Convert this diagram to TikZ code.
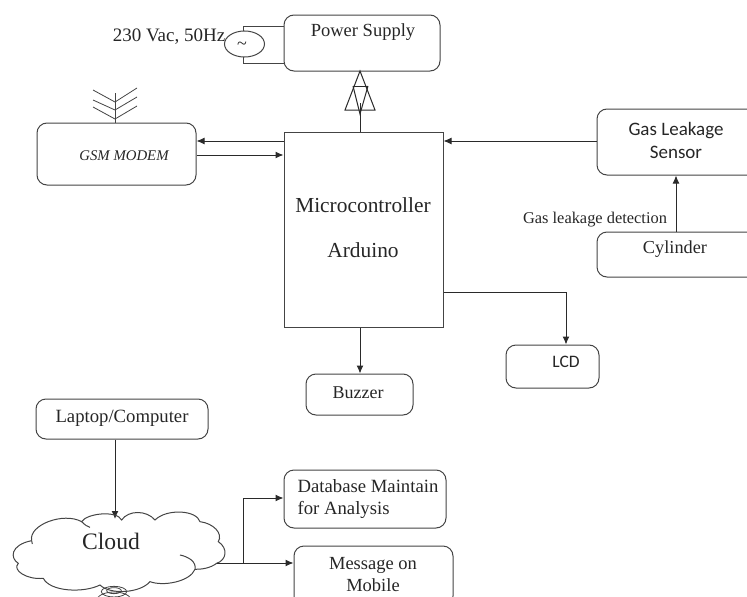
\documentclass[tikz,border=0pt]{standalone}
\usepackage{fontspec}
\setmainfont{Liberation Serif}
\newfontfamily\sensorfont{Carlito}
\usetikzlibrary{arrows.meta,shapes.geometric}
\definecolor{ink}{HTML}{2A2A2A}
\definecolor{edge}{HTML}{444444}
\tikzset{
  box/.style={draw=edge,line width=1pt,rounded corners=10pt,inner sep=0pt},
  plainbox/.style={draw=edge,line width=1pt,inner sep=0pt},
  txt/.style={text=black!85,inner sep=0pt,align=center,font=\fontsize{18.5}{24}\selectfont},
  wire/.style={draw=ink,line width=1pt},
  conn/.style={wire,-{Latex[length=8pt,width=7pt]}},
}
\begin{document}
\begin{tikzpicture}[x=1pt,y=-1pt]
\useasboundingbox (0,0) rectangle (747,597);
% boxes
\node[box,minimum width=156pt,minimum height=56pt] (ps) at (362,43) {};
\node[plainbox,minimum width=159pt,minimum height=195pt] (mc) at (363.5,229.5) {};
\node[box,minimum width=159pt,minimum height=62pt] (gsm) at (116.5,154) {};
\node[box,minimum width=170pt,minimum height=66pt] (gas) at (682,142) {};
\node[box,minimum width=170pt,minimum height=45pt] (cyl) at (682,254.5) {};
\node[box,minimum width=93pt,minimum height=43pt] (lcd) at (552.5,366.5) {};
\node[box,minimum width=107pt,minimum height=41pt] (buz) at (359.5,394.5) {};
\node[box,minimum width=172pt,minimum height=40pt] (lap) at (122,419) {};
\node[box,minimum width=162pt,minimum height=58pt] (db) at (365,499) {};
\node[box,minimum width=159pt,minimum height=60pt] (msg) at (373.5,576) {};
% texts
\node[txt] (tps) at (363,32) {Power Supply};
\node[txt,font=\fontsize{19}{22}\selectfont] (tac) at (169,37) {230 Vac, 50Hz};
\node[txt,font=\fontsize{21.4}{45}\selectfont] (tmc) at (363,228) {Microcontroller\\Arduino};
\node[txt,font=\itshape\fontsize{14.8}{17}\selectfont] (tgsm) at (124,156) {GSM MODEM};
\node[txt,font=\sensorfont\fontsize{19}{23}\selectfont] (tgas) at (676,140) {Gas Leakage\\Sensor};
\node[txt,font=\fontsize{16.4}{19}\selectfont] (tdet) at (595,220) {Gas leakage detection};
\node[txt,font=\fontsize{18.3}{22}\selectfont] (tcyl) at (675,249) {Cylinder};
\node[txt,font=\sensorfont\fontsize{17.5}{20}\selectfont] (tlcd) at (566,362) {LCD};
\node[txt,font=\fontsize{18}{22}\selectfont] (tbuz) at (358,393) {Buzzer};
\node[txt,font=\fontsize{18.7}{22}\selectfont] (tlap) at (122,418) {Laptop/Computer};
\node[txt,align=left,font=\fontsize{18.7}{22}\selectfont] (tdb) at (368,499) {Database Maintain\\for Analysis};
\node[txt,font=\fontsize{18.5}{22}\selectfont] (tmsg) at (373,575) {Message on\\Mobile};
% AC source
\node[draw=edge,line width=1pt,ellipse,minimum width=40pt,minimum height=26pt,inner sep=0pt] (ac) at (244.5,44) {};
\node[txt,font=\fontsize{18}{20}\selectfont] (tilde) at (242,46) {\textasciitilde};
\draw[wire,draw=edge] (243,31) -- (243,26) -- (ps.west |- 0,26);
\draw[wire,draw=edge] (243,57) -- (243,63) -- (ps.west |- 0,63);
% power connector
\draw[wire] (360,71) -- (345,110) -- (375,110) -- cycle;
\draw[wire] (353,86) -- (368,86);
\draw[wire] (353,86) -- (360,114) -- (368,86);
\draw[wire] (360,103) -- (360,132);
% antenna
\draw[wire,draw=edge,line width=0.8pt] (115,123) -- (115,93);
\foreach \a/\b in {102/90,110/100,119/107}{\draw[wire,draw=edge,line width=0.8pt] (115,\a) -- (93,\b);}
\foreach \a/\b in {102/88,110/97,119/106}{\draw[wire,draw=edge,line width=0.8pt] (115,\a) -- (137,\b);}
% connectors
\draw[conn] (mc.west |- 0,141) -- (gsm.east |- 0,141);
\draw[conn] (gsm.east |- 0,155) -- (mc.west |- 0,155);
\draw[conn] (gas.west |- 0,141) -- (mc.east |- 0,141);
\draw[conn] (cyl.north -| 676,0) -- (gas.south -| 676,0);
\draw[conn] (mc.east |- 0,292) -- (566,292) -- (lcd.north -| 566,0);
\draw[conn] (mc.south -| 360,0) -- (buz.north -| 360,0);
\draw[conn] (lap.south -| 115,0) -- (115,519);
% cloud
\begin{scope}[shift={(0,470)},x=0.3333pt,y=-0.3333pt]
\draw[wire,draw=edge] (95,212) .. controls (85,165) and (190,125) .. (245,155)
  .. controls (260,130) and (350,120) .. (365,150)
  .. controls (385,120) and (440,120) .. (465,150)
  .. controls (500,115) and (590,120) .. (600,155)
  .. controls (640,160) and (670,190) .. (655,215)
  .. controls (685,235) and (680,270) .. (650,280)
  .. controls (630,295) and (605,298) .. (585,298)
  .. controls (570,335) and (490,350) .. (450,335)
  .. controls (420,370) and (330,375) .. (300,345)
  .. controls (250,370) and (150,365) .. (130,325)
  .. controls (80,330) and (35,300) .. (55,280)
  .. controls (30,265) and (30,225) .. (95,212);
\draw[wire,draw=edge] (585,298) .. controls (590,275) and (565,260) .. (540,255);
\draw[wire,draw=edge] (245,155) .. controls (255,165) and (262,170) .. (270,172);
\draw[wire,draw=edge] (95,212) -- (97,222);
\draw[wire,draw=edge,line width=0.8pt] (342,365) ellipse (38 and 16);
\draw[wire,draw=edge,line width=0.8pt] (342,362) ellipse (22 and 9);
\draw[wire,draw=edge,line width=0.8pt] (342,392) ellipse (52 and 26);
\end{scope}
\node[txt,font=\fontsize{23.6}{26}\selectfont] (tcl) at (111,541) {Cloud};
\coordinate (cl) at (217,563);
\coordinate (br) at (243,563);
\draw[conn] (cl) -- (msg.west |- cl);
\draw[conn] (br) -- (243,498) -- (db.west |- 0,498);
\end{tikzpicture}
\end{document}
